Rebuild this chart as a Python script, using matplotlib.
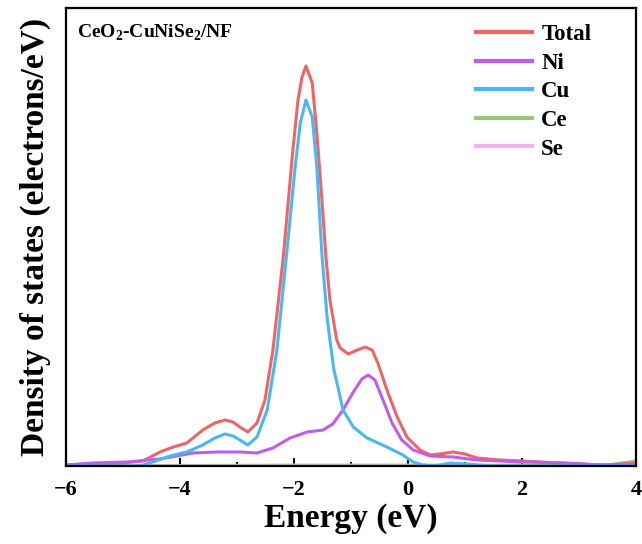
import matplotlib.pyplot as plt
from matplotlib.ticker import MultipleLocator

plt.rcParams['font.family'] = ['Liberation Serif', 'DejaVu Serif']
plt.rcParams['font.weight'] = 'bold'
plt.rcParams['mathtext.fontset'] = 'custom'
plt.rcParams['mathtext.rm'] = 'Liberation Serif:bold'
plt.rcParams['mathtext.bf'] = 'Liberation Serif:bold'

# projected DOS, energies in eV
e_total = [-6.0, -5.49, -5.0, -4.65, -4.35, -4.12, -3.88, -3.6, -3.39, -3.21, -3.07, -2.95,
           -2.81, -2.65, -2.51, -2.37, -2.19, -2.02, -1.93, -1.86, -1.79, -1.68, -1.6, -1.51,
           -1.44, -1.37, -1.25, -1.19, -1.05, -0.89, -0.75, -0.63, -0.53, -0.37, -0.19, -0.02,
           0.21, 0.39, 0.56, 0.79, 1.0, 1.21, 1.61, 2.0, 2.96, 3.49, 4.0]
dos_total = [0.01, 0.02, 0.03, 0.05, 0.14, 0.19, 0.23, 0.36, 0.43, 0.46, 0.44, 0.39,
             0.34, 0.43, 0.66, 1.16, 2.08, 3.16, 3.66, 3.89, 4.0, 3.83, 3.33, 2.66,
             2.09, 1.66, 1.26, 1.18, 1.12, 1.16, 1.19, 1.16, 1.03, 0.76, 0.49, 0.29,
             0.16, 0.11, 0.12, 0.14, 0.12, 0.08, 0.06, 0.05, 0.02, 0.01, 0.03]

e_ni = [-6.0, -5.53, -4.93, -4.35, -3.77, -3.35, -2.95, -2.65, -2.37, -2.07, -1.77, -1.49,
        -1.32, -1.14, -0.96, -0.81, -0.7, -0.58, -0.44, -0.28, -0.11, 0.09, 0.39, 0.79,
        1.21, 2.0, 2.79, 3.37, 4.0]
dos_ni = [0.01, 0.03, 0.04, 0.07, 0.13, 0.14, 0.14, 0.13, 0.18, 0.28, 0.34, 0.36,
          0.42, 0.56, 0.74, 0.87, 0.91, 0.86, 0.66, 0.43, 0.26, 0.16, 0.1, 0.09,
          0.06, 0.04, 0.03, 0.01, 0.01]

e_cu = [-6.0, -4.7, -4.53, -4.18, -3.88, -3.6, -3.39, -3.21, -3.07, -2.95, -2.81, -2.65,
        -2.47, -2.3, -2.14, -1.98, -1.89, -1.79, -1.68, -1.6, -1.51, -1.42, -1.37, -1.3,
        -1.25, -1.14, -0.96, -0.72, -0.37, -0.09, 0.09, 0.26, 0.47, 0.74, 1.04, 1.44, 4.0]
dos_cu = [0.0, 0.0, 0.03, 0.1, 0.14, 0.21, 0.28, 0.32, 0.3, 0.26, 0.21, 0.29,
          0.56, 1.16, 2.06, 2.99, 3.43, 3.66, 3.49, 2.99, 2.11, 1.49, 1.26, 0.96,
          0.84, 0.56, 0.39, 0.28, 0.19, 0.11, 0.04, 0.01, 0.0, 0.03, 0.02, 0.0, 0.0]

e_ce = [-6.0, -2.0, 0.0, 2.0, 3.0, 3.5, 4.0]
dos_ce = [0.0, 0.0, 0.0, 0.01, 0.0, 0.01, 0.05]

e_se = [-6.0, -2.0, 0.0, 1.0, 2.0, 4.0]
dos_se = [0.0, 0.01, 0.01, 0.01, 0.0, 0.0]

fig = plt.figure(figsize=(6.42, 5.44), dpi=100)
ax = fig.add_axes([0.1028, 0.1434, 0.8879, 0.8419])

lw = 2.2
ax.plot(e_se, dos_se, color='#F2B0F2', lw=lw, label='Se')
ax.plot(e_ce, dos_ce, color='#96C878', lw=lw, label='Ce')
ax.plot(e_total, dos_total, color='#F06464', lw=lw, label='Total')
ax.plot(e_ni, dos_ni, color='#C25CF0', lw=lw, label='Ni')
ax.plot(e_cu, dos_cu, color='#48B8F5', lw=lw, label='Cu')

ax.set_xlim(-6, 4)
ax.set_ylim(0, 4.58)
ax.xaxis.set_major_locator(MultipleLocator(2))
ax.xaxis.set_minor_locator(MultipleLocator(1))
ax.tick_params(axis='x', which='major', direction='in', length=6, width=1.5,
               labelsize=16, pad=10)
ax.tick_params(axis='x', which='minor', direction='in', length=3, width=1.5)
ax.set_yticks([])
for s in ax.spines.values():
    s.set_linewidth(1.6)

ax.set_xlabel('Energy (eV)', fontsize=24, fontweight='bold', labelpad=2)
ax.set_ylabel('Density of states (electrons/eV)', fontsize=24, fontweight='bold', labelpad=11)

ax.text(0.019, 0.945, r'CeO$_2$-CuNiSe$_2$/NF', transform=ax.transAxes,
        fontsize=14, fontweight='bold', va='center', ha='left')

handles, labels = ax.get_legend_handles_labels()
order = [labels.index(n) for n in ['Total', 'Ni', 'Cu', 'Ce', 'Se']]
leg = ax.legend([handles[i] for i in order], [labels[i] for i in order],
                loc='upper left', bbox_to_anchor=(0.683, 1.01), frameon=False,
                prop={'family': 'Liberation Serif', 'weight': 'bold', 'size': 16.5},
                handlelength=2.45, handletextpad=0.40, labelspacing=0.33)
for line in leg.get_lines():
    line.set_linewidth(3)

fig.savefig('out.png', dpi=100)
